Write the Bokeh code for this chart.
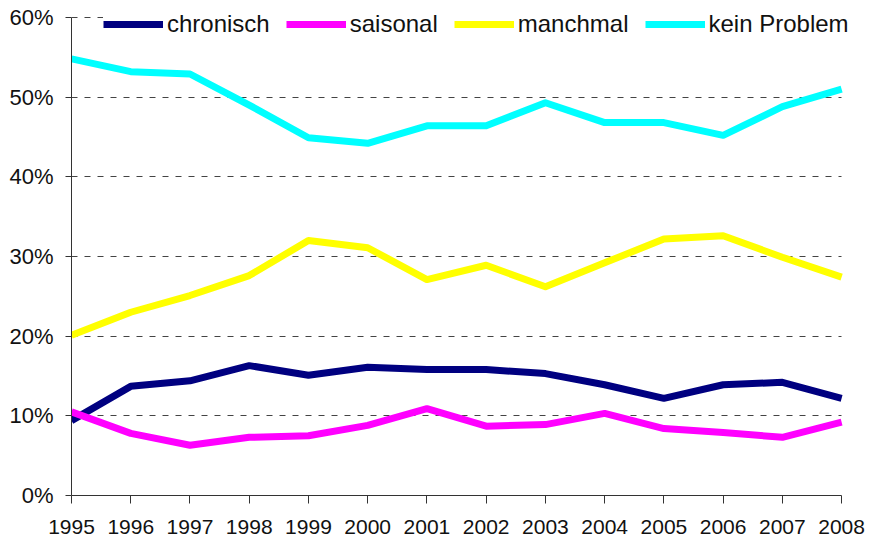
from bokeh.plotting import figure
from bokeh.models import Range1d, NumeralTickFormatter, FixedTicker, Legend, LegendItem
from bokeh.embed import file_html
from bokeh.resources import INLINE

years = [1995, 1996, 1997, 1998, 1999, 2000, 2001, 2002, 2003, 2004, 2005, 2006, 2007, 2008]
chronisch = [9.4, 13.7, 14.4, 16.3, 15.1, 16.1, 15.8, 15.8, 15.3, 13.9, 12.2, 13.9, 14.2, 12.2]
saisonal = [10.5, 7.8, 6.3, 7.3, 7.5, 8.8, 10.9, 8.7, 8.9, 10.3, 8.4, 7.9, 7.3, 9.2]
manchmal = [20.1, 23.0, 25.1, 27.6, 32.0, 31.1, 27.1, 28.9, 26.2, 29.2, 32.2, 32.6, 29.9, 27.4]
kein_problem = [54.8, 53.2, 52.9, 49.0, 44.9, 44.2, 46.4, 46.4, 49.3, 46.8, 46.8, 45.2, 48.8, 51.0]
y_ticks = [0, 0.1, 0.2, 0.3, 0.4, 0.5, 0.6]

series = [
    ("chronisch", chronisch, "#000080"),
    ("saisonal", saisonal, "#FF00FF"),
    ("manchmal", manchmal, "#FFFF00"),
    ("kein Problem", kein_problem, "#00FFFF"),
]

# frame is a little larger than the data area so the legend (which sits
# partly above the 60% line) is not clipped; axes/grid are bounded to the data
p = figure(width=870, height=540, output_backend="svg", toolbar_location=None,
           x_range=Range1d(1995, 2008.42), y_range=Range1d(0, 0.615),
           min_border_left=71, min_border_right=4, min_border_top=5, min_border_bottom=45)
p.outline_line_color = None
p.background_fill_color = "white"
p.border_fill_color = "white"

items = []
for name, vals, col in series:
    r = p.line(years, [v / 100 for v in vals], line_color=col, line_width=7,
               line_join="round", line_cap="butt")
    items.append(LegendItem(label=name, renderers=[r]))

legend = Legend(items=items, orientation="horizontal", location=(32, 457),
                border_line_color=None, background_fill_color="white", background_fill_alpha=1,
                padding=0, margin=0, spacing=16, label_standoff=4,
                glyph_width=60, glyph_height=24,
                label_text_font="Liberation Sans", label_text_font_size="24px",
                label_text_color="#111111")
p.add_layout(legend, "center")

p.xaxis.ticker = FixedTicker(ticks=years)
p.yaxis.ticker = FixedTicker(ticks=y_ticks)
p.yaxis.formatter = NumeralTickFormatter(format="0%")
p.xaxis.bounds = (1995, 2008)
p.yaxis.bounds = (0, 0.6)

for ax in (p.xaxis, p.yaxis):
    ax.axis_line_color = "#333333"
    ax.major_tick_line_color = "#333333"
    ax.minor_tick_line_color = None
    ax.major_tick_in = 0
    ax.major_label_text_font = "Liberation Sans"
    ax.major_label_text_color = "#111111"
p.xaxis.major_label_text_font_size = "21px"
p.yaxis.major_label_text_font_size = "22px"
p.xaxis.major_tick_out = 8
p.yaxis.major_tick_out = 6
p.xaxis.major_label_standoff = 16
p.yaxis.major_label_standoff = 12

p.xgrid.grid_line_color = None
p.ygrid.grid_line_color = "#444444"
p.ygrid.grid_line_dash = "6 7"
p.ygrid.grid_line_width = 1
p.ygrid.bounds = (0, 0.6)
p.ygrid.cross_bounds = (1995, 2008)

open("out.html", "w").write(file_html(p, INLINE))
